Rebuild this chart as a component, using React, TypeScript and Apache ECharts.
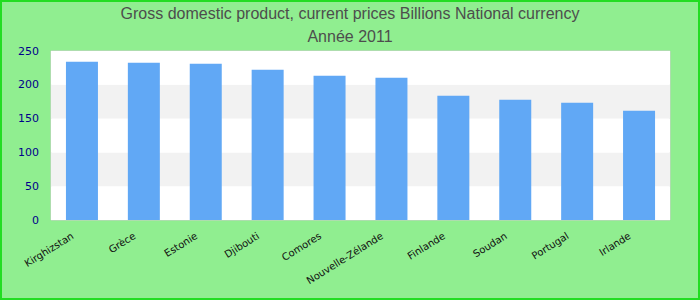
import React, { useEffect, useRef } from "react";
import * as echarts from "echarts";

const categories = ["Kirghizstan", "Grèce", "Estonie", "Djibouti", "Comores", "Nouvelle-Zélande", "Finlande", "Soudan", "Portugal", "Irlande"];
const values = [234.1, 232.7, 231.2, 222.3, 213.4, 210.4, 183.8, 177.8, 173.4, 161.5];
const titleLines = ["Gross domestic product, current prices Billions National currency", "Année 2011"];

export default function App() {
  const ref = useRef<HTMLDivElement>(null);
  useEffect(() => {
    document.body.style.margin = "0";
    const chart = echarts.init(ref.current!, null, { renderer: "svg" });
    chart.setOption({
      animation: false,
      backgroundColor: "#90EE90",
      graphic: [
        {
          type: "rect",
          shape: { x: 1, y: 1, width: 698, height: 298 },
          style: { fill: "none", stroke: "#22dd22", lineWidth: 2 },
          silent: true,
        },
      ],
      title: {
        text: titleLines.join("\n"),
        left: "center",
        top: -3,
        textStyle: {
          fontFamily: "Liberation Sans",
          fontSize: 16,
          fontWeight: "normal",
          color: "#4d4d4d",
          lineHeight: 23,
        },
      },
      grid: {
        left: 51,
        right: 30,
        top: 51,
        bottom: 80,
        show: true,
        borderColor: "#cccccc",
        borderWidth: 1,
        backgroundColor: "#ffffff",
      },
      xAxis: {
        type: "category",
        data: categories,
        axisLine: { show: false },
        axisTick: { show: false },
        axisLabel: {
          rotate: 32,
          interval: 0,
          color: "#111111",
          fontFamily: "DejaVu Sans",
          fontSize: 10,
          margin: 9,
          padding: [0, 11, 0, 0],
        },
      },
      yAxis: {
        type: "value",
        min: 0,
        max: 250,
        interval: 50,
        axisLine: { show: false },
        axisTick: { show: false },
        splitLine: { show: false },
        splitArea: { show: true, areaStyle: { color: ["#ffffff", "#f2f2f2"] } },
        axisLabel: {
          color: "#00008b",
          fontFamily: "DejaVu Sans",
          fontSize: 11,
          margin: 12,
        },
      },
      series: [
        {
          type: "bar",
          data: values,
          barWidth: 32,
          itemStyle: { color: "#61a8f5" },
        },
      ],
    });
    return () => chart.dispose();
  }, []);
  return <div ref={ref} style={{ width: 700, height: 300 }} />;
}
